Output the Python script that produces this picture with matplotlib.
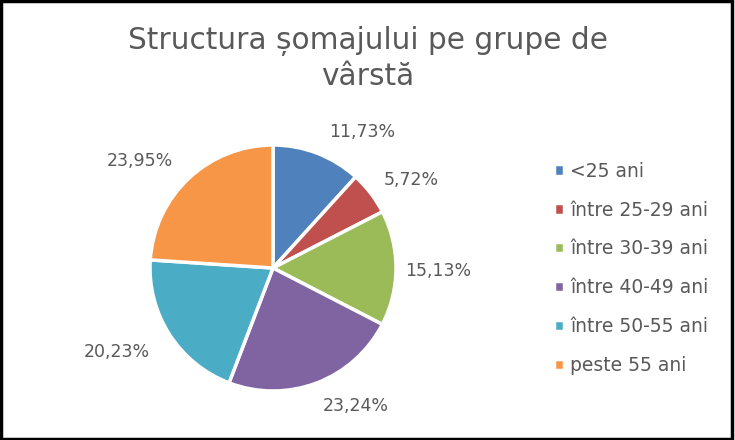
import matplotlib.pyplot as plt
import numpy as np
from matplotlib.patches import Rectangle

# date grafic
categorii = ["<25 ani", "între 25-29 ani", "între 30-39 ani",
             "între 40-49 ani", "între 50-55 ani", "peste 55 ani"]
procente = [11.73, 5.72, 15.13, 23.24, 20.23, 23.95]
culori = ["#4F81BD", "#C0504D", "#9BBB59", "#8064A2", "#4BACC6", "#F79646"]

gri = "#595959"
plt.rcParams['font.family'] = ['DejaVu Sans']

fig = plt.figure(figsize=(7.35, 4.4), dpi=100)

# pie: centru ~(273,268) px, raza ~123 px
R = 123
cx, cy = 273, 268
ax = fig.add_axes([(cx - R) / 735, (440 - cy - R) / 440, 2 * R / 735, 2 * R / 440])

wedges, texts = ax.pie(
    procente, colors=culori, startangle=90, counterclock=False,
    wedgeprops=dict(edgecolor="white", linewidth=2.5))
ax.set_xlim(-1, 1)
ax.set_ylim(-1, 1)
ax.set_aspect("equal")

# etichete puse ca in Excel ("best fit"): deplasare unghi / distanta
decalaj_unghi = [-12, -5, -1, 10, -4.5, 8]
distanta = [1.32, 1.33, 1.34, 1.31, 1.44, 1.39]
for w, p, da, d in zip(wedges, procente, decalaj_unghi, distanta):
    a = np.deg2rad((w.theta1 + w.theta2) / 2 + da)
    ax.text(d * np.cos(a), d * np.sin(a), f"{p:.2f}%".replace(".", ","),
            ha="center", va="center", fontsize=12.5, color=gri)

fig.suptitle("Structura șomajului pe grupe de\nvârstă", x=0.5, y=0.942,
             fontsize=21.3, color=gri, linespacing=1.29)

leg = fig.legend(wedges, categorii, loc="center left",
                 bbox_to_anchor=(0.731, 0.39), frameon=False,
                 fontsize=13.5, labelcolor=gri, handlelength=0.55,
                 handleheight=0.55, handletextpad=0.3, labelspacing=1.06)

# chenar negru in jurul figurii
fig.patches.append(Rectangle((0.002, 0.002), 0.994, 0.995, transform=fig.transFigure,
                             fill=False, edgecolor="black", linewidth=2.5))

fig.savefig("out.png", dpi=100)
